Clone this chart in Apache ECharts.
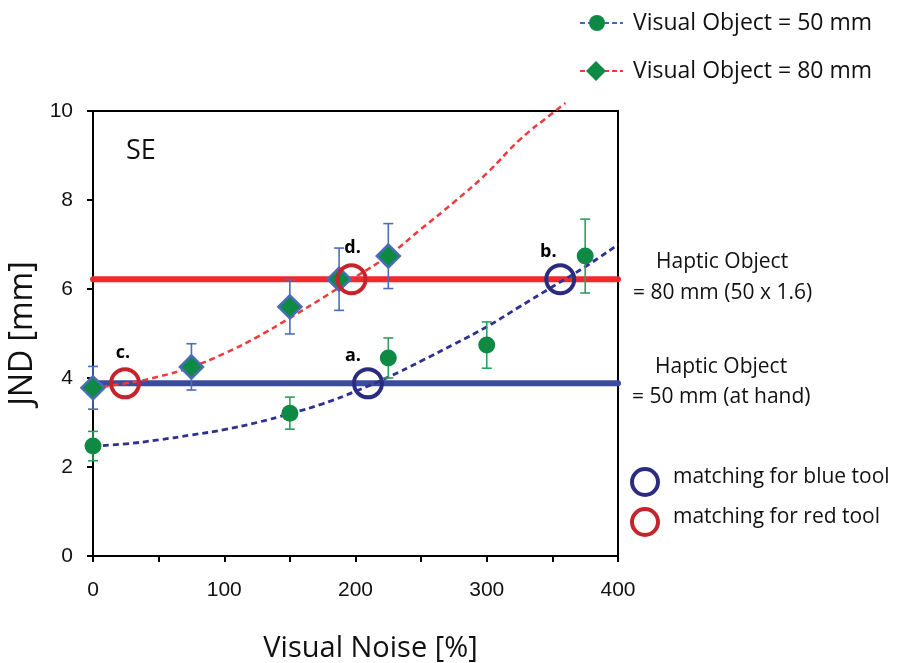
<!DOCTYPE html>
<html><head><meta charset="utf-8">
<script src="https://cdn.jsdelivr.net/npm/echarts@6/dist/echarts.min.js"></script>
<style>html,body{margin:0;padding:0;background:#fff;overflow:hidden}#c{width:897px;height:663px}</style>
</head><body><div id="c"></div>
<script>
// ---- data ----
const noise50 = [0, 150, 225, 300, 375];
const jnd50 = [2.47, 3.21, 4.45, 4.74, 6.74];
const err50 = [0.33, 0.36, 0.45, 0.52, 0.83];

const noise80 = [0, 75, 150, 187.5, 225];
const jnd80 = [3.78, 4.25, 5.6, 6.22, 6.74];
const err80 = [0.48, 0.52, 0.61, 0.7, 0.73];

const fit50X = [0, 25, 50, 75, 100, 125, 150, 175, 200, 225, 250, 275, 300, 325, 350, 375, 400];
const fit50Y = [2.47, 2.52, 2.61, 2.72, 2.84, 3.0, 3.2, 3.42, 3.7, 4.02, 4.38, 4.76, 5.15, 5.6, 6.05, 6.5, 7.0];

const fit80X = [0, 25, 50, 75, 100, 125, 150, 175, 200, 225, 250, 275, 300, 325, 350, 360];
const fit80Y = [3.78, 3.88, 4.03, 4.25, 4.55, 4.92, 5.35, 5.8, 6.27, 6.75, 7.35, 7.95, 8.6, 9.35, 9.95, 10.18];

const haptic80 = 6.22;
const haptic50 = 3.88;

const matchBlueX = [209.5, 356];
const matchBlueY = [3.88, 6.22];
const matchBlueLabels = ['a.', 'b.'];
const matchRedX = [24.4, 197];
const matchRedY = [3.88, 6.22];
const matchRedLabels = ['c.', 'd.'];

const xTicks = [0, 100, 200, 300, 400];
const yTicks = [0, 2, 4, 6, 8, 10];

// ---- build ----
const zip = (xs, ys) => xs.map((x, i) => [x, ys[i]]);
const sans = '"Open Sans", "Noto Sans", sans-serif';
const arial = '"Liberation Sans", Arial, sans-serif';

function errSeries(xs, ys, es, color) {
  return {
    type: 'custom', z: 4,
    data: xs.map((x, i) => [x, ys[i], es[i]]),
    renderItem(params, api) {
      const x = api.value(0), y = api.value(1), e = api.value(2);
      const t = api.coord([x, y + e]), b = api.coord([x, y - e]);
      const w = 5, st = { stroke: color, lineWidth: 1.6 };
      return { type: 'group', children: [
        { type: 'line', shape: { x1: t[0], y1: t[1], x2: b[0], y2: b[1] }, style: st },
        { type: 'line', shape: { x1: t[0] - w, y1: t[1], x2: t[0] + w, y2: t[1] }, style: st },
        { type: 'line', shape: { x1: b[0] - w, y1: b[1], x2: b[0] + w, y2: b[1] }, style: st }
      ]};
    }
  };
}

const blueOffsets = [[-15, -27], [-12, -27]];
const redOffsets = [[-2, -30], [1, -31]];
function matchSeries(xs, ys, labels, color, offsets) {
  return {
    type: 'scatter', z: 8, symbol: 'circle', symbolSize: 28,
    itemStyle: { color: 'rgba(0,0,0,0)', borderColor: color, borderWidth: 4, opacity: 1 },
    data: xs.map((x, i) => ({
      value: [x, ys[i]],
      label: { show: true, formatter: labels[i], position: 'inside', offset: offsets[i],
        fontFamily: sans, fontWeight: 'bold', fontSize: 18, color: '#000' }
    })),
    silent: true
  };
}

const chart = echarts.init(document.getElementById('c'), null, { renderer: 'canvas' });
chart.setOption({
  animation: false,
  backgroundColor: '#fff',
  grid: { left: 93, right: 279, top: 111, bottom: 107, show: true, borderColor: '#000', borderWidth: 2,
    containLabel: false, outerBoundsMode: 'none' },
  xAxis: {
    type: 'value', min: 0, max: 400, interval: 50,
    axisLine: { show: true, lineStyle: { color: '#000', width: 2 } },
    axisTick: { show: true, length: 6, lineStyle: { color: '#000', width: 2 } },
    splitLine: { show: false },
    axisLabel: { margin: 24, fontFamily: arial, fontSize: 21, color: '#111',
      formatter: v => xTicks.includes(v) ? String(v) : '' },
    name: 'Visual Noise [%]', nameLocation: 'middle', nameGap: 78,
    nameTextStyle: { fontFamily: sans, fontSize: 29, color: '#111', padding: [0, 0, 0, 30] }
  },
  yAxis: {
    type: 'value', min: 0, max: 10, interval: 2,
    axisLine: { show: true, lineStyle: { color: '#000', width: 2 } },
    axisTick: { show: true, length: 6, lineStyle: { color: '#000', width: 2 } },
    splitLine: { show: false },
    axisLabel: { margin: 20, fontFamily: arial, fontSize: 21, color: '#111',
      formatter: v => yTicks.includes(v) ? String(v) : '' },
    name: 'JND [mm]', nameLocation: 'middle', nameGap: 50, nameRotate: 90,
    nameTextStyle: { fontFamily: sans, fontSize: 32, color: '#111' }
  },
  series: [
    { type: 'line', z: 1, data: [[0, haptic80], [400, haptic80]], symbol: 'none',
      lineStyle: { color: '#EE2A2E', width: 6, cap: 'round' }, silent: true },
    { type: 'line', z: 1, data: [[0, haptic50], [400, haptic50]], symbol: 'none',
      lineStyle: { color: '#3B4BA0', width: 6, cap: 'round' }, silent: true },
    { type: 'line', z: 2, data: zip(fit50X, fit50Y), symbol: 'none', smooth: true,
      lineStyle: { color: '#2E3192', width: 2.8, type: [6, 4] }, silent: true },
    { type: 'line', z: 2, data: zip(fit80X, fit80Y), symbol: 'none', smooth: true, clip: false,
      lineStyle: { color: '#EF3A3C', width: 2.5, type: [6, 4] }, silent: true },
    errSeries(noise50, jnd50, err50, '#2BA05E'),
    errSeries(noise80, jnd80, err80, '#4C6DB8'),
    { name: 'Visual Object = 50 mm', type: 'scatter', z: 6, symbol: 'circle', symbolSize: 17,
      itemStyle: { color: '#0E8A45', opacity: 1 }, data: zip(noise50, jnd50) },
    { name: 'Visual Object = 80 mm', type: 'scatter', z: 6, symbol: 'diamond', symbolSize: 23,
      itemStyle: { color: '#0E8A45', borderColor: '#4B6CB7', borderWidth: 2.5, opacity: 1 }, data: zip(noise80, jnd80) },
    matchSeries(matchBlueX, matchBlueY, matchBlueLabels, '#2B2C80', blueOffsets),
    matchSeries(matchRedX, matchRedY, matchRedLabels, '#C4242B', redOffsets)
  ],
  graphic: [
    { type: 'text', left: 126, top: 138, style: { text: 'SE', fontFamily: sans, fontSize: 27, fill: '#111' } },
    // legend
    { type: 'line', shape: { x1: 580, y1: 23, x2: 623, y2: 23 }, style: { stroke: '#3A6BC0', lineWidth: 2, lineDash: [5, 3] } },
    { type: 'circle', shape: { cx: 597, cy: 23, r: 8 }, style: { fill: '#0E8A45' } },
    { type: 'text', left: 633, top: 12, style: { text: 'Visual Object = 50 mm', fontFamily: sans, fontSize: 23, fill: '#111' } },
    { type: 'line', shape: { x1: 580, y1: 71, x2: 623, y2: 71 }, style: { stroke: '#EF3A3C', lineWidth: 2, lineDash: [5, 3] } },
    { type: 'polygon', shape: { points: [[596, 61], [606, 71], [596, 81], [586, 71]] }, style: { fill: '#0E8A45' } },
    { type: 'text', left: 633, top: 60, style: { text: 'Visual Object = 80 mm', fontFamily: sans, fontSize: 23, fill: '#111' } },
    // haptic labels
    { type: 'text', left: 656, top: 252, style: { text: 'Haptic Object', fontFamily: sans, fontSize: 21, fill: '#111' } },
    { type: 'text', left: 633, top: 283, style: { text: '= 80 mm (50 x 1.6)', fontFamily: sans, fontSize: 21, fill: '#111' } },
    { type: 'text', left: 655, top: 357, style: { text: 'Haptic Object', fontFamily: sans, fontSize: 21, fill: '#111' } },
    { type: 'text', left: 632, top: 387, style: { text: '= 50 mm (at hand)', fontFamily: sans, fontSize: 21, fill: '#111' } },
    // matching legend
    { type: 'circle', shape: { cx: 645, cy: 482, r: 13 }, style: { fill: 'none', stroke: '#2B2C80', lineWidth: 4 } },
    { type: 'text', left: 673, top: 467, style: { text: 'matching for blue tool', fontFamily: sans, fontSize: 21, fill: '#111' } },
    { type: 'circle', shape: { cx: 645, cy: 522, r: 13 }, style: { fill: 'none', stroke: '#C4242B', lineWidth: 4 } },
    { type: 'text', left: 673, top: 507, style: { text: 'matching for red tool', fontFamily: sans, fontSize: 21, fill: '#111' } }
  ]
});
</script></body></html>
